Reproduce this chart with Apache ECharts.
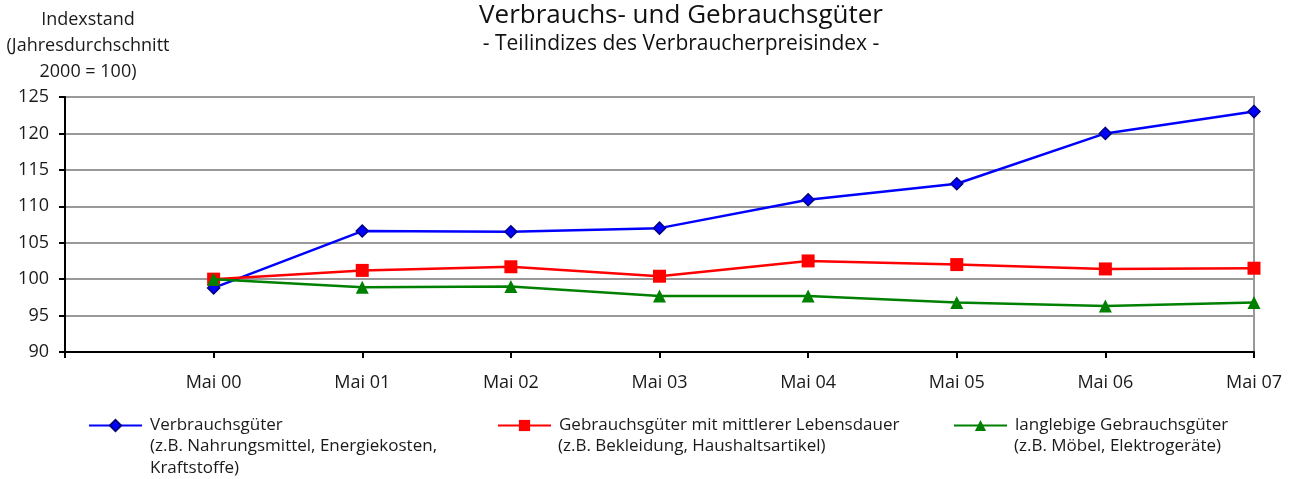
<!DOCTYPE html>
<html>
<head>
<meta charset="utf-8">
<script src="https://cdn.jsdelivr.net/npm/echarts@6/dist/echarts.min.js"></script>
<style>
  html, body { margin: 0; padding: 0; background: #fff; }
  #chart { width: 1299px; height: 479px; }
</style>
</head>
<body>
<div id="chart"></div>
<script>
// Kategorien (erste Position leer, wie im Original)
var categories = ['', 'Mai 00', 'Mai 01', 'Mai 02', 'Mai 03', 'Mai 04', 'Mai 05', 'Mai 06', 'Mai 07'];
var verbrauchsgueter = [null, 98.8, 106.6, 106.5, 107.0, 110.9, 113.1, 120.0, 123.0];
var gebrauchsgueterMittel = [null, 100.0, 101.2, 101.7, 100.4, 102.5, 102.0, 101.4, 101.5];
var langlebige = [null, 100.0, 98.9, 99.0, 97.7, 97.7, 96.8, 96.3, 96.8];
var seriesNames = ['Verbrauchsgüter', 'Gebrauchsgüter mit mittlerer Lebensdauer', 'langlebige Gebrauchsgüter'];
var legendExtra = [
  '(z.B. Nahrungsmittel, Energiekosten,\nKraftstoffe)',
  '(z.B. Bekleidung, Haushaltsartikel)',
  '(z.B. Möbel, Elektrogeräte)'
];

var font = '"Open Sans", "Noto Sans", sans-serif';
var chart = echarts.init(document.getElementById('chart'));

function legendAt(left, name) {
  return {
    left: left,
    top: 417,
    data: [name],
    itemWidth: 53,
    itemHeight: 14,
    padding: 0,
    textStyle: { fontFamily: font, fontSize: 17, color: '#1a1a1a', padding: [0, 0, 0, 3] }
  };
}

var option = {
  animation: false,
  title: {
    text: 'Verbrauchs- und Gebrauchsgüter',
    subtext: '- Teilindizes des Verbraucherpreisindex -',
    left: 676,
    textAlign: 'center',
    top: -2,
    itemGap: 5,
    textStyle: { fontFamily: font, fontSize: 26, fontWeight: 'normal', color: '#111' },
    subtextStyle: { fontFamily: font, fontSize: 21, color: '#111' }
  },
  legend: [
    legendAt(88, seriesNames[0]),
    legendAt(497, seriesNames[1]),
    legendAt(953, seriesNames[2])
  ],
  graphic: [
    { type: 'text', left: 150, top: 435, style: { text: legendExtra[0], font: '17px ' + font, fill: '#1a1a1a', lineHeight: 22 } },
    { type: 'text', left: 558, top: 435, style: { text: legendExtra[1], font: '17px ' + font, fill: '#1a1a1a', lineHeight: 22 } },
    { type: 'text', left: 1014, top: 435, style: { text: legendExtra[2], font: '17px ' + font, fill: '#1a1a1a', lineHeight: 22 } }
  ],
  grid: {
    left: 65,
    right: 45,
    top: 97,
    bottom: 127,
    outerBoundsMode: 'none',
    containLabel: false,
    show: true,
    borderColor: '#999',
    borderWidth: 2
  },
  xAxis: {
    type: 'category',
    data: categories,
    boundaryGap: false,
    axisLine: { lineStyle: { color: '#000', width: 2 } },
    axisTick: { show: true, length: 6, lineStyle: { color: '#000', width: 2 } },
    axisLabel: { margin: 22, fontFamily: font, fontSize: 18, color: '#1a1a1a', interval: 0 },
    splitLine: { show: false }
  },
  yAxis: {
    type: 'value',
    min: 90,
    max: 125,
    interval: 5,
    name: 'Indexstand\n(Jahresdurchschnitt\n2000 = 100)',
    nameLocation: 'end',
    nameGap: 12,
    nameTextStyle: { fontFamily: font, fontSize: 18, color: '#1a1a1a', align: 'center', lineHeight: 26, padding: [0, 0, 0, 46] },
    axisLine: { show: true, lineStyle: { color: '#000', width: 2 } },
    axisTick: { show: true, length: 6, lineStyle: { color: '#000', width: 2 } },
    axisLabel: { margin: 16, fontFamily: font, fontSize: 18, color: '#1a1a1a' },
    splitLine: { show: true, lineStyle: { color: '#999', width: 2 } }
  },
  series: [
    {
      name: seriesNames[0],
      type: 'line',
      data: verbrauchsgueter,
      symbol: 'diamond',
      symbolSize: 12,
      lineStyle: { color: '#0000ff', width: 2.5 },
      itemStyle: { color: '#0000ff', borderColor: '#000080', borderWidth: 1.5 },
      z: 3
    },
    {
      name: seriesNames[1],
      type: 'line',
      data: gebrauchsgueterMittel,
      symbol: 'rect',
      symbolSize: 13,
      lineStyle: { color: '#ff0000', width: 2.5 },
      itemStyle: { color: '#ff0000' },
      z: 4
    },
    {
      name: seriesNames[2],
      type: 'line',
      data: langlebige,
      symbol: 'triangle',
      symbolSize: 13,
      lineStyle: { color: '#008000', width: 2.5 },
      itemStyle: { color: '#008000' },
      z: 5
    }
  ]
};
chart.setOption(option);
</script>
</body>
</html>
